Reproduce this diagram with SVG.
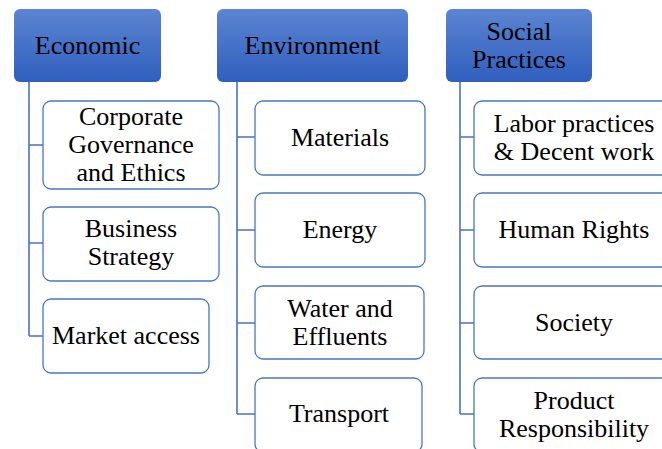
<svg xmlns="http://www.w3.org/2000/svg" width="662" height="449" viewBox="0 0 662 449" font-family="'Liberation Serif', 'Times New Roman', Times, serif">
<defs>
<linearGradient id="hg" x1="0" y1="0" x2="0" y2="1">
<stop offset="0" stop-color="#5c84d2"/>
<stop offset="1" stop-color="#2f5fbe"/>
</linearGradient>
</defs>
<style>
.hdr{fill:url(#hg);stroke:none}
.box{fill:#ffffff;stroke:#4a76c6;stroke-width:1.3}
.t{font-family:'Liberation Serif','Times New Roman',Times,serif;font-size:26px;fill:#000;text-anchor:middle}
.c{fill:none;stroke:#4a72c0;stroke-width:1.6}
</style>
<rect width="662" height="449" fill="#ffffff"/>
<g id="connectors">
<path class="c" d="M29,82 V336 M29,145 H43 M29,243 H43 M29,336 H43"/>
<path class="c" d="M237,82 V414 M237,137 H255 M237,230 H255 M237,323 H255 M237,414 H255"/>
<path class="c" d="M460,82 V414 M460,137 H474 M460,230 H474 M460,323 H474 M460,414 H474"/>
</g>
<g id="economic">
<rect class="hdr" x="14" y="9" width="147" height="73" rx="6"/>
<text class="t" x="87.5" y="54">Economic</text>
</g>
<g id="corporate">
<rect class="box" x="43" y="101" width="176" height="88" rx="8"/>
<text class="t" x="131" y="125">Corporate</text>
<text class="t" x="131" y="153">Governance</text>
<text class="t" x="131" y="181">and Ethics</text>
</g>
<g id="business">
<rect class="box" x="43" y="207" width="176" height="74" rx="8"/>
<text class="t" x="131" y="237">Business</text>
<text class="t" x="131" y="265">Strategy</text>
</g>
<g id="market">
<rect class="box" x="43" y="299" width="166" height="74" rx="8"/>
<text class="t" x="126" y="344">Market access</text>
</g>
<g id="environment">
<rect class="hdr" x="217" y="9" width="191" height="73" rx="6"/>
<text class="t" x="312.5" y="54">Environment</text>
</g>
<g id="materials">
<rect class="box" x="255" y="101" width="170" height="74" rx="8"/>
<text class="t" x="340" y="146">Materials</text>
</g>
<g id="energy">
<rect class="box" x="255" y="193" width="170" height="74" rx="8"/>
<text class="t" x="340" y="238">Energy</text>
</g>
<g id="water">
<rect class="box" x="255" y="286" width="169" height="73" rx="8"/>
<text class="t" x="340" y="316.5">Water and</text>
<text class="t" x="340" y="344.5">Effluents</text>
</g>
<g id="transport">
<rect class="box" x="255" y="378" width="167" height="74" rx="8"/>
<text class="t" x="339" y="422">Transport</text>
</g>
<g id="social">
<rect class="hdr" x="446" y="9" width="146" height="73" rx="6"/>
<text class="t" x="519" y="39.5">Social</text>
<text class="t" x="519" y="67.5">Practices</text>
</g>
<g id="labor">
<rect class="box" x="474" y="101" width="200" height="74" rx="8"/>
<text class="t" x="574" y="131.5">Labor practices</text>
<text class="t" x="574" y="159.5">&amp; Decent work</text>
</g>
<g id="human">
<rect class="box" x="474" y="193" width="200" height="74" rx="8"/>
<text class="t" x="574" y="238">Human Rights</text>
</g>
<g id="society">
<rect class="box" x="474" y="286" width="200" height="73" rx="8"/>
<text class="t" x="574" y="331">Society</text>
</g>
<g id="product">
<rect class="box" x="474" y="378" width="200" height="74" rx="8"/>
<text class="t" x="574" y="408.5">Product</text>
<text class="t" x="574" y="436.5">Responsibility</text>
</g>
</svg>
